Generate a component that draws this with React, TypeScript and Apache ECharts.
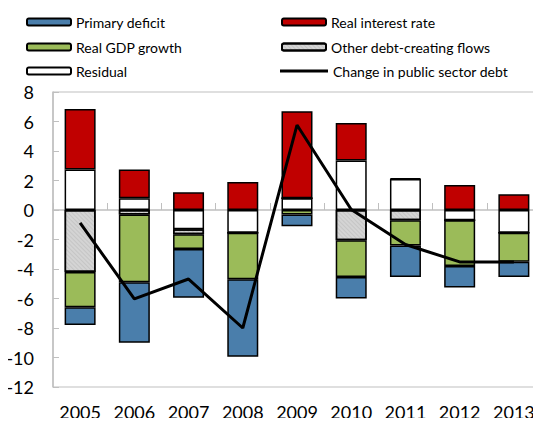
import React, { useEffect, useRef } from "react";
import * as echarts from "echarts";

const years = ["2005", "2006", "2007", "2008", "2009", "2010", "2011", "2012", "2013"];
const primaryDeficit = [-1.2, -4.1, -3.3, -5.25, -0.8, -1.45, -2.15, -1.45, -1.05];
const realInterest = [4.1, 1.95, 1.2, 1.9, 5.9, 2.55, 0.05, 1.7, 1.07];
const realGdpGrowth = [-2.4, -4.6, -1.0, -3.15, -0.3, -2.5, -1.7, -3.1, -1.95];
const otherFlows = [-4.2, -0.3, -0.35, 0, 0, -2.05, -0.7, 0, 0];
const residual = [2.75, 0.8, -1.3, -1.55, 0.8, 3.35, 2.1, -0.7, -1.55];
const changeDebt = [-0.87, -6.03, -4.68, -8.0, 5.76, 0.03, -2.34, -3.52, -3.52];

const FONT = "Lato";
const GRAY = "#bfbfbf";

export default function App() {
  const ref = useRef<HTMLDivElement>(null);
  useEffect(() => {
    if (!ref.current) return;
    const chart = echarts.init(ref.current, null, { renderer: "svg" });
    const border = { borderColor: "#000", borderWidth: 1.5 };
    const barBase = { type: "bar", stack: "s", barWidth: 31 };
    const legendText = { fontFamily: FONT, fontSize: 14, color: "#000", lineHeight: 16 };
    const mkLegend = (name: any, left: number, center: number, w: number, h = 7) => ({
      data: [name],
      left,
      top: center - 8,
      padding: 0,
      itemWidth: w,
      itemHeight: h,
      itemGap: 0,
      textStyle: legendText,
      selectedMode: false,
    });
    chart.setOption({
      animation: false,
      textStyle: { fontFamily: FONT },
      legend: [
        mkLegend("Primary deficit", 26, 22, 44),
        mkLegend("Real GDP growth", 26, 47, 44),
        mkLegend("Residual", 26, 71, 44),
        mkLegend("Real interest rate", 281, 22, 44),
        mkLegend("Other debt-creating flows", 281, 47, 44),
        mkLegend(
          {
            name: "Change in public sector debt",
            icon: "rect",
            itemStyle: { color: "#000", borderWidth: 0 },
          },
          280,
          71,
          48,
          3
        ),
      ],
      grid: {
        left: 53,
        top: 92,
        width: 490,
        height: 295,
        show: true,
        borderColor: GRAY,
        borderWidth: 1,
        backgroundColor: "transparent",
      },
      xAxis: [
        {
          type: "category",
          data: years,
          position: "bottom",
          axisLine: { show: false, onZero: false },
          axisTick: { show: false },
          axisLabel: { fontFamily: FONT, fontSize: 18, color: "#000", margin: 16, interval: 0 },
        },
        {
          type: "category",
          data: years,
          position: "bottom",
          axisLine: { show: true, onZero: true, lineStyle: { color: GRAY, width: 1.5 } },
          axisTick: { show: true, inside: true, length: 7, lineStyle: { color: GRAY } },
          axisLabel: { show: false },
        },
      ],
      yAxis: {
        type: "value",
        min: -12,
        max: 8,
        interval: 2,
        axisLine: { show: true, lineStyle: { color: GRAY, width: 1.5 } },
        axisTick: { show: true, inside: true, length: 6, lineStyle: { color: GRAY } },
        splitLine: { show: false },
        axisLabel: { fontFamily: FONT, fontSize: 18, color: "#000", margin: 19 },
      },
      series: [
        { ...barBase, name: "Residual", data: residual, itemStyle: { color: "#ffffff", ...border } },
        {
          ...barBase,
          name: "Other debt-creating flows",
          data: otherFlows,
          itemStyle: {
            color: "#d4d4d4",
            ...border,
            decal: {
              symbol: "rect",
              symbolSize: 1,
              color: "rgba(0,0,0,0.07)",
              dashArrayX: [1, 0],
              dashArrayY: [1, 2],
              rotation: Math.PI / 4,
            },
          },
        },
        { ...barBase, name: "Real GDP growth", data: realGdpGrowth, itemStyle: { color: "#9bbb59", ...border } },
        { ...barBase, name: "Primary deficit", data: primaryDeficit, itemStyle: { color: "#4a7eab", ...border } },
        { ...barBase, name: "Real interest rate", data: realInterest, itemStyle: { color: "#c00000", ...border } },
        {
          type: "line",
          name: "Change in public sector debt",
          data: changeDebt,
          symbol: "none",
          z: 10,
          itemStyle: { color: "#000" },
          lineStyle: { color: "#000", width: 3 },
        },
      ],
    });
    return () => chart.dispose();
  }, []);
  return <div ref={ref} style={{ width: 541, height: 426, margin: -8 }} />;
}
